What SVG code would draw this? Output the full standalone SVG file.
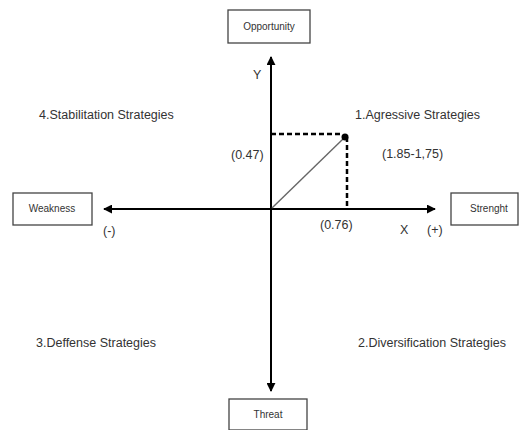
<svg xmlns="http://www.w3.org/2000/svg" width="520" height="430" viewBox="0 0 520 430">
<style>
.box{fill:#fff;stroke:#444;stroke-width:1.3}
.bl{font-family:"Liberation Sans",Arial,sans-serif;font-size:10px;fill:#333;text-anchor:middle}
.t{font-family:"Liberation Sans",Arial,sans-serif;font-size:12.5px;fill:#333}
.axis{stroke:#000;stroke-width:2;fill:none}
.dash{stroke:#000;stroke-width:2.5;stroke-dasharray:5 3;fill:none}
</style>
<defs>
<marker id="ah" viewBox="0 0 10 10" refX="9" refY="5" markerWidth="4.5" markerHeight="4.5" orient="auto" markerUnits="strokeWidth">
<path d="M0,0 L10,5 L0,10 z" fill="#000"/>
</marker>
</defs>
<rect width="520" height="430" fill="#fff"/>
<g id="connectors">
<line class="axis" x1="271" y1="209" x2="271" y2="57" marker-end="url(#ah)"/>
<line class="axis" x1="271" y1="209" x2="271" y2="391" marker-end="url(#ah)"/>
<line class="axis" x1="271" y1="209" x2="435" y2="209" marker-end="url(#ah)"/>
<line class="axis" x1="271" y1="209" x2="104" y2="209" marker-end="url(#ah)"/>
<line class="dash" x1="271" y1="134" x2="343" y2="134"/>
<line class="dash" x1="347" y1="137" x2="347" y2="209"/>
<line x1="272" y1="208" x2="343" y2="139" stroke="#666" stroke-width="1.4"/>
<circle cx="345" cy="137" r="3.5" fill="#000"/>
</g>
<g id="opportunity">
<rect class="box" x="228" y="10" width="82" height="33"/>
<text class="bl" x="269" y="30">Opportunity</text>
</g>
<g id="threat">
<rect class="box" x="229" y="399" width="78" height="31"/>
<text class="bl" x="268" y="418">Threat</text>
</g>
<g id="weakness">
<rect class="box" x="13" y="193" width="79" height="32"/>
<text class="bl" x="52" y="212">Weakness</text>
</g>
<g id="strenght">
<rect class="box" x="451" y="193" width="67" height="32"/>
<text class="bl" x="489" y="212">Strenght</text>
</g>
<g id="labels">
<text class="t" x="253" y="79">Y</text>
<text class="t" x="400" y="234">X</text>
<text class="t" x="427" y="234">(+)</text>
<text class="t" x="103" y="235">(-)</text>
<text class="t" x="320" y="229">(0.76)</text>
<text class="t" x="231" y="159">(0.47)</text>
<text class="t" x="382" y="158">(1.85-1,75)</text>
<text class="t" x="355" y="119">1.Agressive Strategies</text>
<text class="t" x="39" y="119">4.Stabilitation Strategies</text>
<text class="t" x="36" y="347">3.Deffense Strategies</text>
<text class="t" x="358" y="347">2.Diversification Strategies</text>
</g>
</svg>
